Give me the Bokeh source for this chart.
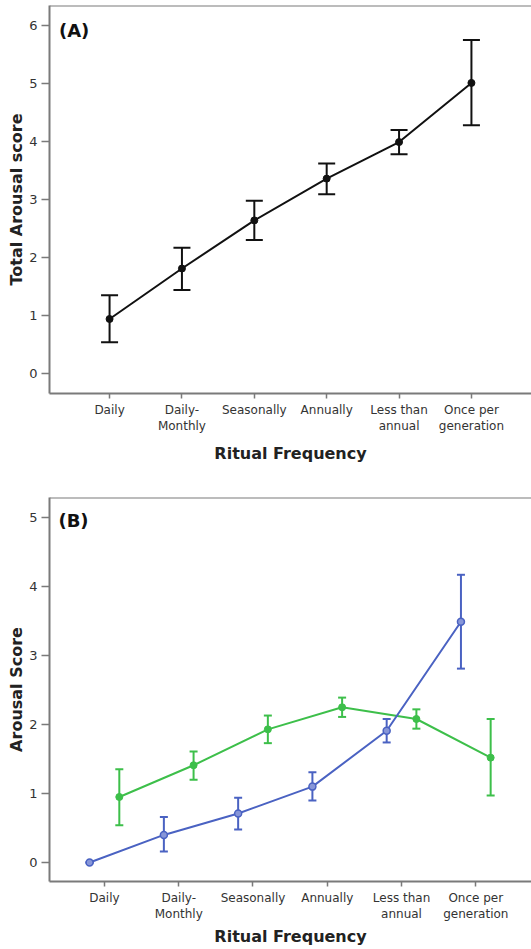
from bokeh.plotting import figure
from bokeh.layouts import column
from bokeh.models import (ColumnDataSource, Whisker, TeeHead, FixedTicker, Range1d, Span, Label)
from bokeh.embed import file_html
from bokeh.resources import INLINE

categories = ["Daily", "Daily-\nMonthly", "Seasonally", "Annually", "Less than\nannual", "Once per\ngeneration"]

# Panel A: total arousal
a_mean = [0.94, 1.81, 2.64, 3.36, 3.99, 5.01]
a_upper = [1.35, 2.17, 2.98, 3.62, 4.20, 5.75]
a_lower = [0.54, 1.44, 2.30, 3.09, 3.78, 4.28]

# Panel B: blue series
b1_mean = [0.00, 0.40, 0.71, 1.10, 1.91, 3.49]
b1_upper = [0.00, 0.66, 0.94, 1.31, 2.08, 4.17]
b1_lower = [0.00, 0.16, 0.48, 0.90, 1.74, 2.81]

# Panel B: green series
b2_mean = [0.95, 1.41, 1.93, 2.25, 2.08, 1.52]
b2_upper = [1.35, 1.61, 2.13, 2.39, 2.22, 2.08]
b2_lower = [0.54, 1.20, 1.73, 2.11, 1.94, 0.97]

a_yticks = [0, 1, 2, 3, 4, 5, 6]
b_yticks = [0, 1, 2, 3, 4, 5]

FONT = "DejaVu Sans"
AXIS_COL = "#7a7a7a"
TXT = "#333333"
BLUE = "#4a62c2"
GREEN = "#3dbf4a"

idx = list(range(len(categories)))
overrides = {i: c for i, c in enumerate(categories)}


def style(p, ylabel, yticks, xlabel_standoff):
    p.outline_line_color = None
    p.xgrid.visible = False
    p.ygrid.visible = False
    for ax in (p.xaxis[0], p.yaxis[0]):
        ax.axis_line_color = AXIS_COL
        ax.axis_line_width = 2
        ax.major_tick_line_color = AXIS_COL
        ax.major_tick_line_width = 1.5
        ax.major_tick_in = 0
        ax.minor_tick_line_color = None
        ax.major_label_text_font = FONT
        ax.major_label_text_color = TXT
        ax.major_label_text_font_size = "12px"
        ax.axis_label_text_font = FONT
        ax.axis_label_text_font_style = "bold"
        ax.axis_label_text_color = "#222222"
        ax.axis_label_text_font_size = "16px"
    p.xaxis.ticker = FixedTicker(ticks=idx)
    p.xaxis.major_label_overrides = overrides
    p.xaxis.major_tick_out = 5
    p.xaxis.major_label_standoff = 4
    p.xaxis.axis_label = "Ritual Frequency"
    p.xaxis.axis_label_standoff = xlabel_standoff
    p.yaxis.ticker = FixedTicker(ticks=yticks)
    p.yaxis.major_tick_out = 8
    p.yaxis.major_label_standoff = 4
    p.yaxis.axis_label = ylabel
    p.yaxis.axis_label_standoff = 0
    p.yaxis.major_label_text_font_size = "13px"
    p.add_layout(Span(location=p.y_range.end, dimension="width",
                      line_color=AXIS_COL, line_width=2))


# ---------- Panel A ----------
p1 = figure(width=531, height=470, output_backend="svg", toolbar_location=None,
            x_range=Range1d(-0.83, 5.83), y_range=Range1d(-0.345, 6.345),
            min_border_left=49, min_border_right=0, min_border_top=5, min_border_bottom=77)
style(p1, "Total Arousal score", a_yticks, 8)

srcA = ColumnDataSource(dict(x=idx, y=a_mean, up=a_upper, lo=a_lower))
p1.line("x", "y", source=srcA, line_color="#111111", line_width=2)
p1.scatter("x", "y", source=srcA, size=7, fill_color="#111111", line_color="#111111")
p1.add_layout(Whisker(base="x", upper="up", lower="lo", source=srcA,
                      line_color="#111111", line_width=2,
                      upper_head=TeeHead(size=17, line_color="#111111", line_width=2),
                      lower_head=TeeHead(size=17, line_color="#111111", line_width=2)))
p1.add_layout(Label(x=-0.70, y=5.91, text="(A)", text_font=FONT, text_font_style="bold",
                    text_font_size="18px", text_color="#111111", text_baseline="middle"))

# ---------- Panel B ----------
xb1 = [i - 0.2 for i in idx]
xb2 = [i + 0.2 for i in idx]
p2 = figure(width=531, height=479, output_backend="svg", toolbar_location=None,
            x_range=Range1d(-0.74, 5.75), y_range=Range1d(-0.275, 5.29),
            min_border_left=49, min_border_right=0, min_border_top=27, min_border_bottom=68)
style(p2, "Arousal Score", b_yticks, 3)

srcG = ColumnDataSource(dict(x=xb2, y=b2_mean, up=b2_upper, lo=b2_lower))
srcB = ColumnDataSource(dict(x=xb1, y=b1_mean, up=b1_upper, lo=b1_lower))
for src, col in ((srcG, GREEN), (srcB, BLUE)):
    p2.line("x", "y", source=src, line_color=col, line_width=2)
    p2.add_layout(Whisker(base="x", upper="up", lower="lo", source=src,
                          line_color=col, line_width=2,
                          upper_head=TeeHead(size=8, line_color=col, line_width=2),
                          lower_head=TeeHead(size=8, line_color=col, line_width=2)))
p2.scatter("x", "y", source=srcG, size=7, fill_color=GREEN, line_color=GREEN)
p2.scatter("x", "y", source=srcB, size=7, fill_color="#8796d8", line_color=BLUE, line_width=1.5)
p2.add_layout(Label(x=-0.62, y=4.95, text="(B)", text_font=FONT, text_font_style="bold",
                    text_font_size="18px", text_color="#111111", text_baseline="middle"))

layout = column(p1, p2, spacing=0)
open("out.html", "w").write(file_html(layout, INLINE))
